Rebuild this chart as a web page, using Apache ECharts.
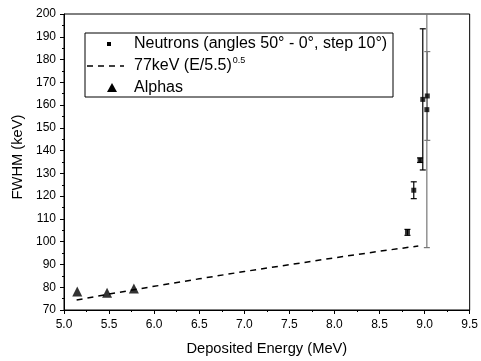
<!DOCTYPE html>
<html><head><meta charset="utf-8">
<script src="https://cdn.jsdelivr.net/npm/echarts@6/dist/echarts.min.js"></script>
<style>html,body{margin:0;padding:0;background:#fff}#c{width:481px;height:361px}</style>
</head><body><div id="c"></div>
<script>
var neutronE = [8.81, 8.88, 8.95, 8.98, 9.025, 9.03];
var neutronFWHM = [104.1, 122.6, 135.8, 162.5, 158.0, 164.0];
var neutronErr = [1.3, 3.7, 1.0, 31.0, 60.6, 19.5];
var grayErr = [false, false, false, false, true, true];
var alphaE = [5.147, 5.478, 5.775];
var alphaFWHM = [78.1, 77.6, 79.4];
var fitE = [5.14, 5.5, 6.0, 6.5, 7.0, 7.5, 8.0, 8.5, 8.93];
var fitFWHM = [74.4, 77.0, 80.4, 83.7, 86.9, 89.9, 92.9, 95.8, 98.1];
var xTicks = [5.0, 9.5, 0.5];
var yTicks = [70, 200, 10];
var legendNames = ['Neutrons (angles 50° - 0°, step 10°)', '77keV (E/5.5)', 'Alphas'];

var chart = echarts.init(document.getElementById('c'));
var neutronPts = neutronE.map(function (e, i) { return [e, neutronFWHM[i]]; });
var errPts = neutronE.map(function (e, i) { return [e, neutronFWHM[i] - neutronErr[i], neutronFWHM[i] + neutronErr[i], grayErr[i] ? 1 : 0]; });
var alphaPts = alphaE.map(function (e, i) { return [e, alphaFWHM[i]]; });
var fitPts = fitE.map(function (e, i) { return [e, fitFWHM[i]]; });

var font = 'Liberation Sans, Arial, sans-serif';
var lx = 85, ly = 33, lw = 308, lh = 64;
var rows = [44, 66, 88];
var tx = 134;
chart.setOption({
  animation: false,
  textStyle: { fontFamily: font },
  grid: { left: 64, right: 9, top: 14, bottom: 47, show: true, borderColor: '#000', borderWidth: 1 },
  xAxis: {
    type: 'value', min: xTicks[0], max: xTicks[1], interval: xTicks[2],
    name: 'Deposited Energy (MeV)', nameLocation: 'middle', nameGap: 31,
    nameTextStyle: { fontSize: 14.7, color: '#000', fontFamily: font },
    axisLine: { lineStyle: { color: '#000', width: 1 } },
    axisTick: { inside: false, length: 4, lineStyle: { color: '#000' } },
    minorTick: { show: true, splitNumber: 2, length: 2, lineStyle: { color: '#000' } },
    splitLine: { show: false },
    axisLabel: { fontSize: 12, color: '#000', margin: 9, formatter: function (v) { return v.toFixed(1); } }
  },
  yAxis: {
    type: 'value', min: yTicks[0], max: yTicks[1], interval: yTicks[2],
    name: 'FWHM (keV)', nameLocation: 'middle', nameGap: 38, nameRotate: 90,
    nameTextStyle: { fontSize: 14.7, color: '#000', fontFamily: font, padding: [0, 0, 0, 10] },
    axisLine: { lineStyle: { color: '#000', width: 1 } },
    axisTick: { inside: false, length: 4, lineStyle: { color: '#000' } },
    minorTick: { show: true, splitNumber: 2, length: 2, lineStyle: { color: '#000' } },
    splitLine: { show: false },
    axisLabel: { fontSize: 12, color: '#000', margin: 8 }
  },
  graphic: [
    { type: 'rect', shape: { x: lx, y: ly, width: lw, height: lh }, style: { fill: '#fff', stroke: '#000', lineWidth: 1 }, z: 10 },
    { type: 'rect', shape: { x: 107, y: rows[0] - 2, width: 4, height: 4 }, style: { fill: '#000' }, z: 11 },
    { type: 'line', shape: { x1: 87, y1: rows[1], x2: 124, y2: rows[1] }, style: { stroke: '#000', lineWidth: 1.5, lineDash: [6, 5] }, z: 11 },
    { type: 'polygon', shape: { points: [[112, rows[2] - 5], [107, rows[2] + 4], [117, rows[2] + 4]] }, style: { fill: '#000' }, z: 11 },
    { type: 'text', x: tx, y: rows[0], style: { text: legendNames[0], font: '16px ' + font, fill: '#000', textVerticalAlign: 'middle' }, z: 11 },
    { type: 'text', x: tx, y: rows[1], style: { text: legendNames[1] + '{sup|0.5}', font: '16px ' + font, fill: '#000', textVerticalAlign: 'middle',
        rich: { sup: { fontSize: 9, fontFamily: font, fill: '#000', verticalAlign: 'top', padding: [0, 0, 10, 1] } } }, z: 11 },
    { type: 'text', x: tx, y: rows[2], style: { text: legendNames[2], font: '16px ' + font, fill: '#000', textVerticalAlign: 'middle' }, z: 11 }
  ],
  series: [
    {
      name: 'err', type: 'custom', clip: true, z: 2,
      data: errPts,
      renderItem: function (params, api) {
        var x = api.value(0);
        var lo = api.coord([x, api.value(1)]);
        var hi = api.coord([x, api.value(2)]);
        var col = api.value(3) ? '#777' : '#000';
        var w = 3;
        return {
          type: 'group', children: [
            { type: 'line', shape: { x1: lo[0], y1: lo[1], x2: hi[0], y2: hi[1] }, style: { stroke: col, lineWidth: 1.2 } },
            { type: 'line', shape: { x1: lo[0] - w, y1: lo[1], x2: lo[0] + w, y2: lo[1] }, style: { stroke: col, lineWidth: 1.2 } },
            { type: 'line', shape: { x1: hi[0] - w, y1: hi[1], x2: hi[0] + w, y2: hi[1] }, style: { stroke: col, lineWidth: 1.2 } }
          ]
        };
      }
    },
    {
      name: 'Neutrons', type: 'scatter', symbol: 'rect', symbolSize: 5,
      itemStyle: { color: '#000' }, data: neutronPts, z: 3
    },
    {
      name: 'fit', type: 'line', symbol: 'none', smooth: false,
      lineStyle: { color: '#000', width: 1.5, type: [6, 5] }, itemStyle: { color: '#000' },
      data: fitPts
    },
    {
      name: 'Alphas', type: 'scatter', symbol: 'triangle', symbolSize: 10,
      itemStyle: { color: '#000' }, data: alphaPts
    }
  ]
});
</script></body></html>
